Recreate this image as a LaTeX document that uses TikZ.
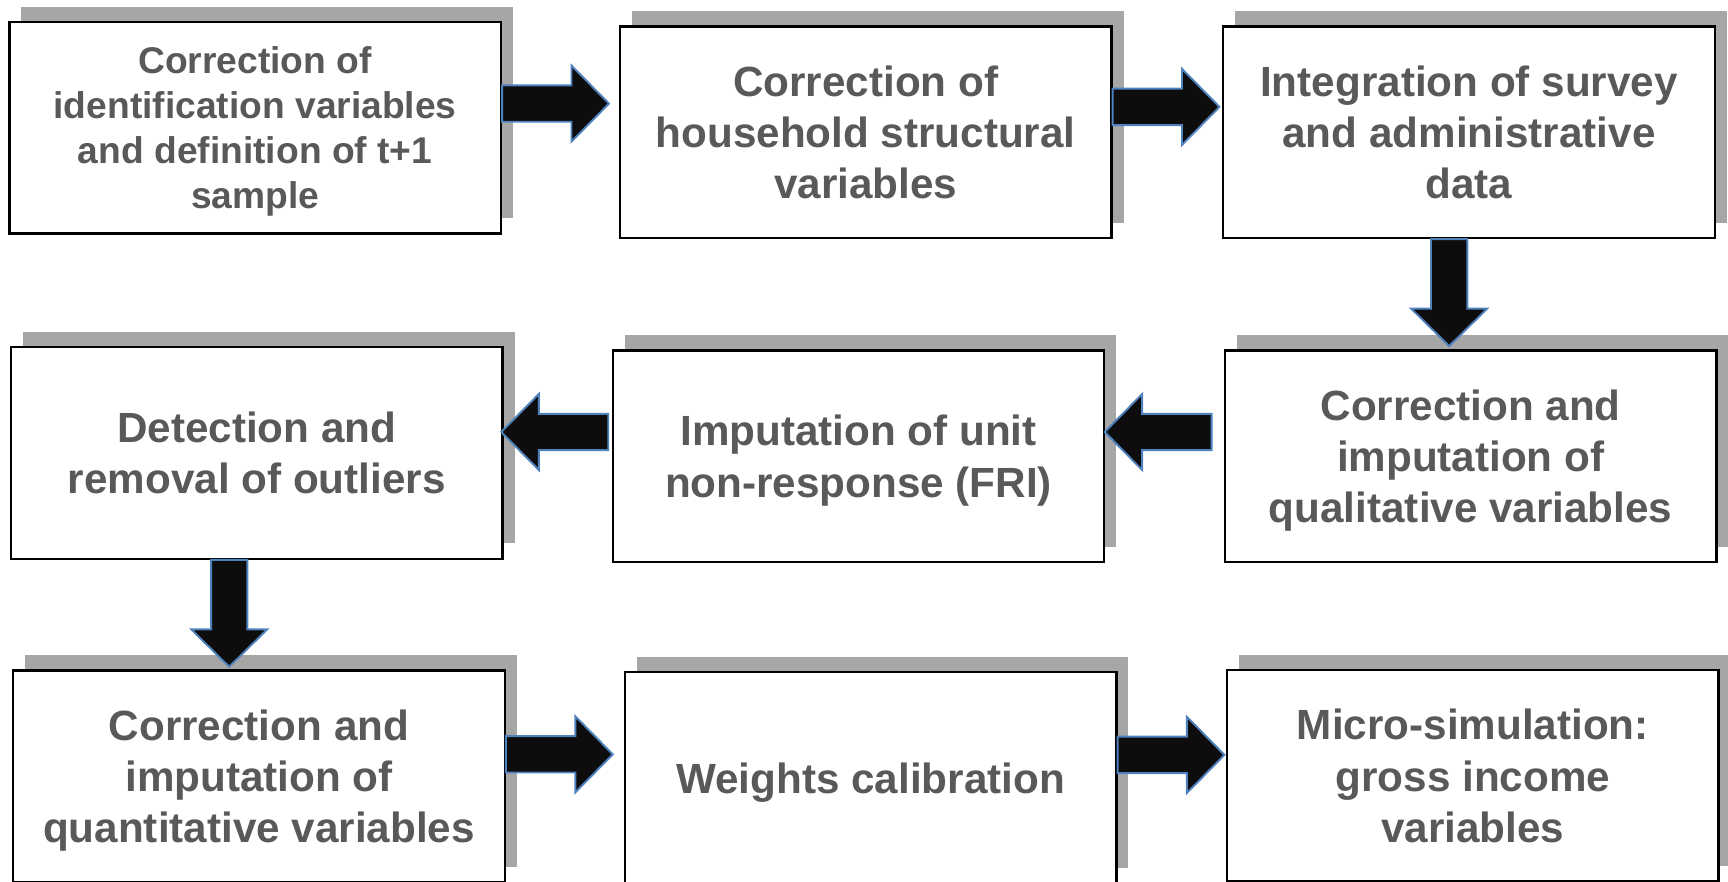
\documentclass[tikz,border=0pt]{standalone}
\usepackage{fontspec}
\setmainfont{Liberation Sans}
\usetikzlibrary{calc,shadows}

\definecolor{boxtext}{HTML}{595959}
\definecolor{boxshadow}{HTML}{A6A6A6}
\definecolor{arrowedge}{HTML}{4F81BD}
\definecolor{arrowfill}{HTML}{0D0D0D}

\tikzset{
	stage/.style={draw=black, line width=0.6pt, fill=white,
		minimum width=44.6mm, minimum height=19.2mm, inner sep=0pt,
		align=center, text=boxtext, text depth=0pt,
		font=\fontsize{10.9}{13.2}\selectfont\bfseries,
		drop shadow={shadow xshift=1.1mm, shadow yshift=1.4mm, fill=boxshadow, opacity=1}},
	blockarrow/.pic={
		\filldraw[fill=arrowfill, draw=arrowedge, line width=0.5pt]
			(0,-16.5) -- (63,-16.5) -- (63,-34.5) -- (97,0) -- (63,34.5) -- (63,16.5) -- (0,16.5) -- cycle;}
}

\begin{document}
\begin{tikzpicture}[x=0.1mm, y=-0.1mm]
	\useasboundingbox (0,0) rectangle (1568,800);

	\node[stage, font=\fontsize{9.6}{11.6}\selectfont\bfseries] (b1) at (231.5,116) {Correction of\\identification variables\\and definition of t+1\\sample};
	\node[stage] (b2) at (785.5,120) {Correction of\\household structural\\variables};
	\node[stage] (b3) at (1333,120) {Integration of survey\\and administrative\\data};

	\node[stage] (b4) at (233,411) {Detection and\\removal of outliers};
	\node[stage] (b5) at (779,414) {Imputation of unit\\non-response (FRI)};
	\node[stage] (b6) at (1334.5,414) {Correction and\\imputation of\\qualitative variables};

	\node[stage] (b7) at (235,704.5) {Correction and\\imputation of\\quantitative variables};
	\node[stage] (b8) at (790,706) {Weights calibration};
	\node[stage] (b9) at (1336.5,704) {Micro-simulation:\\gross income\\variables};

	% arrows sit a bit above the middle of the boxes
	\pic at ($(b1.east)+(0,-22)$) {blockarrow};
	\pic at ($(b2.east)+(0,-23)$) {blockarrow};
	\pic[rotate=-90] at ($(b3.south)+(-18,0)$) {blockarrow};
	\pic[rotate=180] at ($(b6.west)+(-11,-22)$) {blockarrow};
	\pic[rotate=180] at ($(b5.west)+(-3,-22)$) {blockarrow};
	\pic[rotate=-90] at ($(b4.south)+(-25,0)$) {blockarrow};
	\pic at ($(b7.east)+(0,-20)$) {blockarrow};
	\pic at ($(b8.east)+(0,-21)$) {blockarrow};

\end{tikzpicture}
\end{document}
